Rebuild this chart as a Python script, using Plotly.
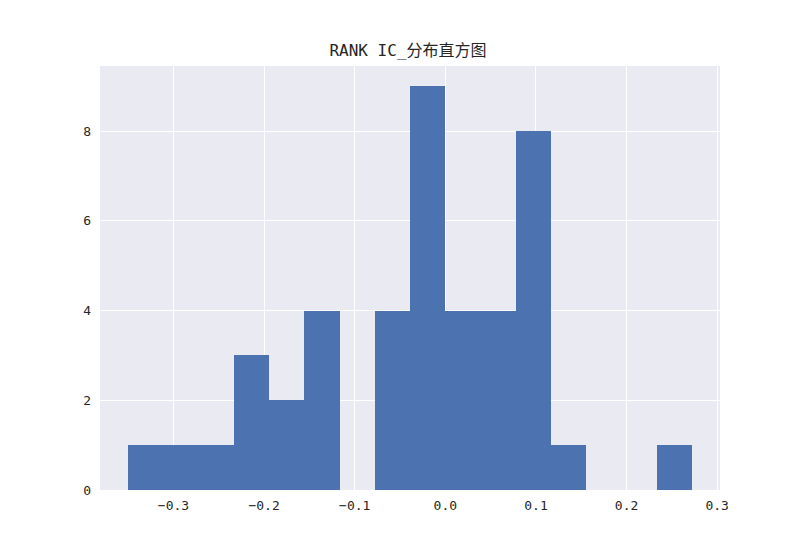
import plotly.graph_objects as go

# Histogram data
bin_start = -0.350
bin_end = 0.272
counts = [1, 1, 1, 3, 2, 4, 0, 4, 9, 4, 4, 8, 1, 0, 0, 1]
x_ticks = [-0.3, -0.2, -0.1, 0.0, 0.1, 0.2, 0.3]
x_tick_labels = ["−0.3", "−0.2", "−0.1", "0.0", "0.1", "0.2", "0.3"]
y_ticks = [0, 2, 4, 6, 8]
title_text = "RANK IC_分布直方图"

n = len(counts)
w = (bin_end - bin_start) / n
centers = [bin_start + w * (i + 0.5) for i in range(n)]
pad = 0.05 * (bin_end - bin_start)

font_fam = "DejaVu Sans Mono, Noto Sans CJK SC, sans-serif"

fig = go.Figure(go.Bar(
    x=centers, y=counts, width=[w] * n,
    marker=dict(color="#4C72B0", line=dict(width=0)),
    hoverinfo="x+y",
))

fig.update_layout(
    width=800, height=550,
    margin=dict(l=92, r=88, t=58, b=68),
    paper_bgcolor="white",
    plot_bgcolor="#EAEAF2",
    bargap=0,
    showlegend=False,
    title=dict(text=title_text, x=0.5, xanchor="center", y=1 - 42 / 550, yanchor="middle",
               font=dict(family=font_fam, size=16, color="#262626")),
    font=dict(family=font_fam, size=13, color="#262626"),
)
fig.update_xaxes(
    range=[bin_start - pad, bin_end + pad],
    tickvals=x_ticks, ticktext=x_tick_labels,
    showgrid=True, gridcolor="white", gridwidth=1.2,
    zeroline=False, showline=False, ticks="", ticklabelstandoff=6,
)
fig.update_yaxes(
    range=[0, max(counts) * 1.05],
    tickvals=y_ticks,
    showgrid=True, gridcolor="white", gridwidth=1.2,
    zeroline=False, showline=False, ticks="", ticklabelstandoff=8,
)

fig.write_html("out.html")
